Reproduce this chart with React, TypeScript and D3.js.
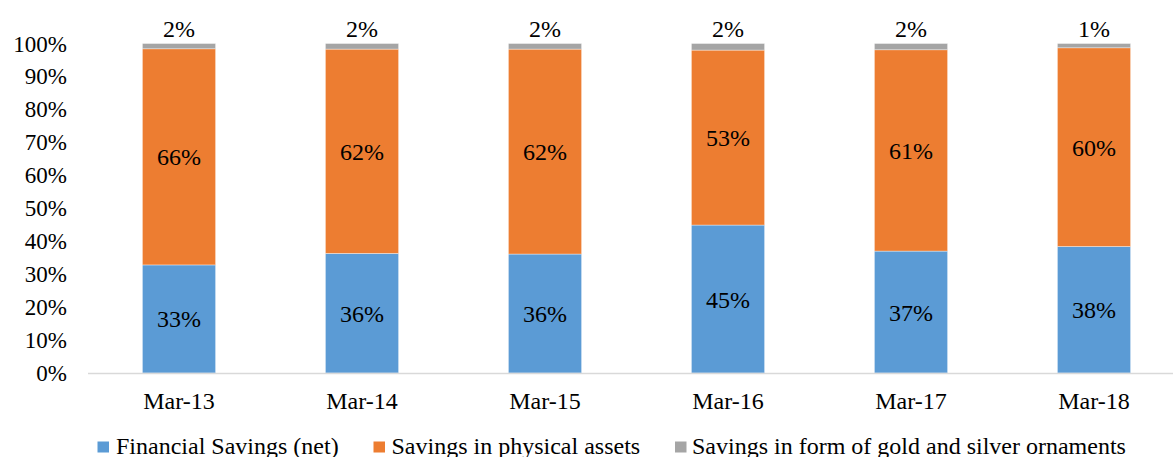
import React from "react";
import * as d3 from "d3";

const categories = ["Mar-13", "Mar-14", "Mar-15", "Mar-16", "Mar-17", "Mar-18"];
const financialSavings = [32.8, 36.3, 36.1, 44.9, 37.0, 38.4];
const physicalAssets = [65.6, 62.0, 62.2, 53.1, 61.1, 60.3];
const goldSilver = [1.6, 1.7, 1.7, 2.0, 1.9, 1.3];
const yTicks = [0, 10, 20, 30, 40, 50, 60, 70, 80, 90, 100];
const seriesNames = [
  "Financial Savings (net)",
  "Savings in physical assets",
  "Savings in form of gold and silver ornaments",
];
const colors = ["#5B9BD5", "#ED7D31", "#A5A5A5"];

const W = 1173;
const H = 457;
const FONT = "'Liberation Serif', 'Times New Roman', Times, serif";
const textStyle = { fontFamily: FONT };

export default function App() {
  const x = d3
    .scaleBand<string>()
    .domain(categories)
    .range([87.5, 87.5 + 6 * 183])
    .paddingInner(0.6)
    .paddingOuter(0.3);
  const y = d3.scaleLinear().domain([0, 100]).range([373, 43.5]);

  const rows = categories.map((c, i) => ({
    cat: c,
    s0: financialSavings[i],
    s1: physicalAssets[i],
    s2: goldSilver[i],
  }));
  const stack = d3.stack<any>().keys(["s0", "s1", "s2"]);
  const stacked = stack(rows);

  const legendItems = [
    { sq: 97.5, tx: 116 },
    { sq: 373.5, tx: 391.5 },
    { sq: 675, tx: 692 },
  ];

  return (
    <svg
      width={W}
      height={H}
      style={{ position: "absolute", left: 0, top: 0, background: "#fff" }}
    >
      {yTicks.map((t) => (
        <text key={t} x={67} y={y(t) + 8} textAnchor="end" fontSize={23} fill="#000" style={textStyle}>
          {t}%
        </text>
      ))}
      {stacked.map((layer, si) =>
        layer.map((d, i) => (
          <rect
            key={si + "-" + i}
            x={x(categories[i])!}
            y={y(d[1])}
            width={x.bandwidth()}
            height={y(d[0]) - y(d[1])}
            fill={colors[si]}
            stroke="#ffffff"
            strokeOpacity={0.5}
            strokeWidth={0.75}
          />
        ))
      )}
      <line x1={88} x2={W} y1={373.5} y2={373.5} stroke="#D9D9D9" strokeWidth={1.5} />
      {stacked.map((layer, si) =>
        layer.map((d, i) => {
          const v = d[1] - d[0];
          const cx = x(categories[i])! + x.bandwidth() / 2;
          const cy = si === 2 ? y(d[1]) - 6.5 : (y(d[0]) + y(d[1])) / 2 + 8.5;
          return (
            <text key={"l" + si + "-" + i} x={cx} y={cy} textAnchor="middle" fontSize={24} fill="#000" style={textStyle}>
              {Math.round(v)}%
            </text>
          );
        })
      )}
      {categories.map((c) => (
        <text key={c} x={x(c)! + x.bandwidth() / 2} y={409.3} textAnchor="middle" fontSize={24} fill="#000" style={textStyle}>
          {c}
        </text>
      ))}
      {seriesNames.map((n, i) => (
        <g key={n}>
          <rect x={legendItems[i].sq} y={441.5} width={11.5} height={11} fill={colors[i]} />
          <text x={legendItems[i].tx} y={454} fontSize={24} fill="#000" style={textStyle}>
            {n}
          </text>
        </g>
      ))}
    </svg>
  );
}
